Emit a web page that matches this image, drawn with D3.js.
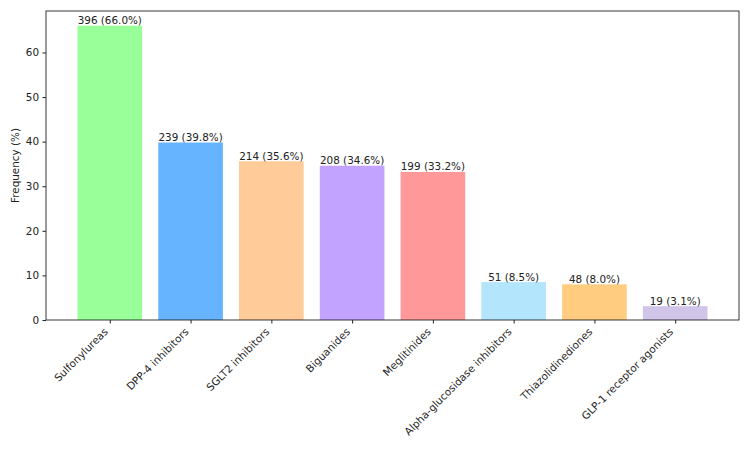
<!DOCTYPE html>
<html><head><meta charset="utf-8">
<script src="https://cdn.jsdelivr.net/npm/d3@7"></script>
<style>body{margin:0;background:#fff}text{font-family:"DejaVu Sans",sans-serif}</style>
</head><body><svg id="c" width="750" height="450"></svg>
<script>
const categories = ["Sulfonylureas","DPP-4 inhibitors","SGLT2 inhibitors","Biguanides","Meglitinides","Alpha-glucosidase inhibitors","Thiazolidinediones","GLP-1 receptor agonists"];
const counts = [396,239,214,208,199,51,48,19];
const percents = [66.0,39.8,35.6,34.6,33.2,8.5,8.0,3.1];
const colors = ["#99ff99","#66b3ff","#ffcc99","#c2a3ff","#ff9999","#b3e5fc","#ffcc80","#d1c4e9"];
const yTicks = [0,10,20,30,40,50,60];

const svg = d3.select("#c");
const L=46, R=739, T=11, B=320;
const fs = 10.4;
const x = d3.scaleLinear().domain([-0.79, 7.79]).range([L, R]);
const y = d3.scaleLinear().domain([0, 69.3]).range([B, T]);
const bw = x(0.8) - x(0);

svg.selectAll("rect.bar").data(categories).join("rect")
  .attr("x",(d,i)=>x(i-0.4)).attr("width",bw)
  .attr("y",(d,i)=>y(percents[i])).attr("height",(d,i)=>B-y(percents[i]))
  .attr("fill",(d,i)=>colors[i]);

svg.selectAll("text.val").data(categories).join("text")
  .attr("x",(d,i)=>x(i)).attr("y",(d,i)=>y(percents[i])-1.5)
  .attr("text-anchor","middle").attr("font-size",fs).attr("fill","#222")
  .text((d,i)=>`${counts[i]} (${percents[i].toFixed(1)}%)`);

// y axis
const ya = svg.append("g").attr("transform",`translate(${L},0)`)
  .call(d3.axisLeft(y).tickValues(yTicks).tickSize(3.5).tickPadding(3.5));
ya.select(".domain").remove();
ya.selectAll("text").attr("font-size",fs).attr("fill","#222").style("font-family","DejaVu Sans");
ya.selectAll("line").attr("stroke","#222");

// x axis
const xa = svg.append("g").attr("transform",`translate(0,${B})`)
  .call(d3.axisBottom(x).tickValues(d3.range(categories.length)).tickFormat(i=>categories[i]).tickSize(3.5).tickPadding(3.5));
xa.select(".domain").remove();
xa.selectAll("line").attr("stroke","#222");
xa.selectAll("text").attr("font-size",fs).attr("fill","#222").style("font-family","DejaVu Sans")
  .attr("text-anchor","end").attr("dy",null).attr("y",0).attr("x",0)
  .attr("transform","translate(-1.8,12.5) rotate(-45)");

// frame
svg.append("rect").attr("x",L).attr("y",T).attr("width",R-L).attr("height",B-T)
  .attr("fill","none").attr("stroke","#222").attr("stroke-width",0.9);

svg.append("text").attr("transform",`translate(19,${(T+B)/2}) rotate(-90)`)
  .attr("text-anchor","middle").attr("font-size",fs).attr("fill","#222").text("Frequency (%)");
</script></body></html>
